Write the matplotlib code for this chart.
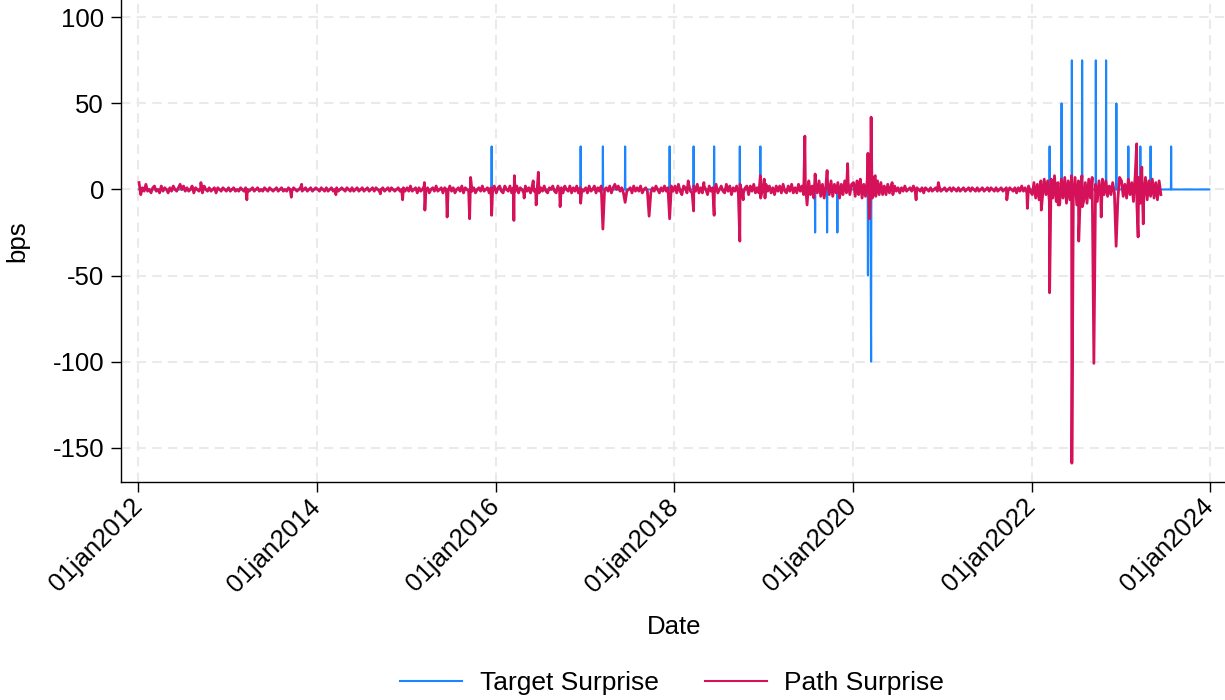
# coding: utf-8
"""
Target surprise and path surprise (bps), 2012-2023
"""

import datetime

import matplotlib
matplotlib.use('Agg')
import matplotlib.pyplot as plt
import matplotlib.dates as mdates
import pandas as pd

# target surprise on announcement days (bps), zero on every other business day
target_dates = ['2015-12-16', '2016-12-14', '2017-03-15', '2017-06-14', '2017-12-13',
                '2018-03-21', '2018-06-13', '2018-09-26', '2018-12-19',
                '2019-07-31', '2019-09-18', '2019-10-30',
                '2020-03-03', '2020-03-16',
                '2022-03-16', '2022-05-04', '2022-06-15', '2022-07-27', '2022-09-21',
                '2022-11-02', '2022-12-14', '2023-02-01', '2023-03-22', '2023-05-03',
                '2023-07-26']
target_bps = [25, 25, 25, 25, 25, 25, 25, 25, 25,
              -25, -25, -25,
              -50, -100,
              25, 50, 75, 75, 75, 75, 50, 25, 25, 25, 25]
target_start = '2012-01-03'
target_end = '2023-12-29'

# path surprise, weekly readings (bps) starting from the first Wednesday of each year
path_weekly = {
    2012: "4 -3 1 -1 3 -1 0 -2 1 2 -1 0 -2 2 -1 1 0 -2 1 -1 2 0 -1 1 -2 0 "
          "2 -1 1 -1 0 2 -2 1 0 -1 1 -2 2 0 -1 1 -1 0 1 -2 1 0 -1 1 0 -1",
    2013: "1 -1 0 1 -1 0 -1 1 0 -1 1 0 -1 0 1 -1 0 1 -1 0 -1 1 0 -1 1 0 "
          "-1 0 1 -1 0 1 -1 0 -1 1 0 -1 1 0 -1 0 1 -1 0 1 -1 0 1 -1 0 1",
    2014: "0 -1 1 0 -1 1 -1 0 1 -1 0 1 -1 0 1 0 -1 1 0 -1 1 -1 0 1 -1 0 "
          "1 -1 0 1 -1 0 1 -1 1 0 -1 0 1 -1 0 1 -1 1 0 -1 0 1 -1 0 1 -1",
    2015: "1 -1 2 -1 0 1 -2 1 -1 0 2 -1 1 -2 0 1 -1 2 -1 0 1 -2 1 0 -1 2 "
          "-1 1 -2 0 1 -1 2 -2 1 0 -1 2 -1 1 -2 0 1 -1 2 -1 0 1 -2 1 -1 2",
    2016: "-2 1 2 -1 -2 2 0 -1 2 -2 1 -1 2 -2 1 0 -2 2 -1 1 -2 2 -1 0 2 -2 "
          "1 -1 2 -1 -2 1 0 2 -1 -2 2 -1 1 -2 2 0 -1 2 -2 1 -1 2 -2 1 0 -1",
    2017: "1 -2 2 -1 0 2 -2 1 -1 2 -2 0 1 -1 2 -2 1 -1 0 2 -1 1 -2 2 -1 0 "
          "1 -2 2 -1 1 -1 2 -2 0 1 -1 2 -2 1 -1 2 0 -2 1 -1 2 -1 1 -2 2 -1",
    2018: "2 -2 3 -1 -3 2 1 -2 3 -1 -2 2 -1 3 -2 1 -2 2 0 -3 2 -1 1 -2 3 -2 "
          "0 2 -1 -2 3 -1 2 -3 1 -1 2 -2 3 -1 -2 1 2 -3 2 -1 3 -2 1 -2 2 -1",
    2019: "-2 3 -1 2 -2 1 -3 2 -1 2 -2 3 -1 -2 2 -1 3 -2 1 -2 3 -1 2 -3 4 -4 "
          "5 -3 2 -5 4 -2 5 -4 3 -5 2 4 -3 5 -4 3 -2 4 -5 3 -3 5 -2 4 -3 3",
    2020: "4 -4 5 -3 6 -5 3 -4 5 -6 6 -5 7 -4 5 -3 4 -3 2 -3 3 -2 2 -3 2 -1 "
          "1 -2 1 -1 2 -1 0 1 -1 2 -1 1 0 -1 1 -2 1 0 -1 1 -1 0 1 -1 2 -1",
    2021: "0 1 -1 0 1 -1 1 0 -1 1 -1 0 1 -1 0 1 -1 1 0 -1 1 -1 0 1 -1 0 "
          "1 -1 1 0 -1 1 -1 0 1 -1 0 1 -1 1 0 -1 1 -2 1 -1 2 -1 1 -2 2 -1",
    2022: "-3 4 -5 3 -6 5 -4 6 -3 5 -7 6 -5 8 -7 4 -9 6 -5 7 -8 5 -6 8 -4 7 "
          "-9 5 -6 8 -7 4 -8 6 -5 7 -6 3 -7 5 -4 6 -3 5 -4 2 -3 4 -2 5 -6 7",
    2023: "5 -4 3 -5 6 -3 4 -7 8 -9 7 -8 6 -5 7 -6 5 -4 6 -5 4 -6 5 -3",
}

# larger path moves on single days (bps)
path_event_dates = ['2012-06-20', '2012-09-13', '2013-03-20', '2013-09-18', '2013-10-30',
                    '2014-03-19', '2014-09-17', '2014-12-17', '2015-03-16', '2015-03-18',
                    '2015-06-17', '2015-09-17', '2015-09-21', '2015-12-16', '2016-03-16',
                    '2016-03-18', '2016-04-27', '2016-06-03', '2016-06-15', '2016-06-24',
                    '2016-09-21', '2016-12-14', '2017-03-15', '2017-05-03', '2017-06-14',
                    '2017-09-20', '2017-12-13', '2018-02-27', '2018-03-21', '2018-05-02',
                    '2018-06-13', '2018-09-26', '2018-10-10', '2018-12-19', '2018-12-20',
                    '2019-01-04', '2019-01-07', '2019-06-19', '2019-06-28', '2019-07-31',
                    '2019-09-18', '2019-10-04', '2019-12-11', '2020-01-29', '2020-03-03',
                    '2020-03-10', '2020-03-16', '2020-03-20', '2020-04-02', '2020-06-10',
                    '2020-09-16', '2020-12-16', '2021-09-22', '2021-12-15', '2022-02-10',
                    '2022-03-16', '2022-04-20', '2022-06-15', '2022-07-13', '2022-07-28',
                    '2022-09-13', '2022-10-13', '2022-12-13', '2023-03-07', '2023-03-13',
                    '2023-03-28', '2023-04-03']
path_event_bps = [3, 4, -6, -4.5, 3,
                  -3, -2.5, -6, 4, -12,
                  -16, -17, 7, -15, -18,
                  8, -5, 5, -9, 10,
                  -10, -8, -23, 3, -7.5,
                  -15.5, -17, 5, -12.5, 4,
                  -15, -30, -6, 8, -5,
                  6, -5, 31, -9, 9,
                  11, 5, 15, 4, 21,
                  -17, 42, -5, 8, 4,
                  -6, 4, -6, -11, -12,
                  -60, -9, -159, -30, -10,
                  -101, -16, -33, 26.5, -27.6,
                  13, -20]

y_ticks = [100, 50, 0, -50, -100, -150]
x_tick_years = [2012, 2014, 2016, 2018, 2020, 2022, 2024]

COLOR_TARGET = '#1A85FF'
COLOR_PATH = '#D41159'


def build_target_series():
    """
    営業日ベースの target surprise 系列 (発表日以外は 0)
    """
    days = pd.bdate_range(target_start, target_end)
    s = pd.Series(0.0, index=days)
    s[pd.to_datetime(target_dates)] = target_bps
    return s


def build_path_series():
    """
    週次の値と個別日の値をまとめて path surprise 系列を作る
    """
    parts = []
    for year, text in path_weekly.items():
        vals = [float(v) for v in text.split()]
        idx = pd.date_range('{}-01-04'.format(year), periods=len(vals), freq='7D')
        parts.append(pd.Series(vals, index=idx))
    events = pd.Series(path_event_bps, index=pd.to_datetime(path_event_dates), dtype=float)
    s = pd.concat(parts + [events]).sort_index(kind='mergesort')
    s = s[~s.index.duplicated(keep='last')]
    return s


def create_surprise_graph(target, path):
    plt.rcParams['font.family'] = ['Liberation Sans', 'DejaVu Sans']
    plt.rcParams['axes.unicode_minus'] = False

    fig = plt.figure(figsize=(12.25, 7), dpi=100)
    ax = fig.add_axes([121 / 1225, 1 - 481.7 / 700, 1104 / 1225, 481.7 / 700])

    line_t, = ax.plot(target.index, target.values, color=COLOR_TARGET, lw=1.5,
                      label='Target Surprise')
    line_p, = ax.plot(path.index, path.values, color=COLOR_PATH, lw=2.0,
                      label='Path Surprise')

    # axes range, a little past the first and last tick
    x0 = mdates.date2num(datetime.date(2012, 1, 1)) - 70.8
    x1 = mdates.date2num(datetime.date(2024, 1, 1)) + 61.3
    ax.set_xlim(x0, x1)
    ax.set_ylim(-169.75, 110.05)

    ax.set_yticks(y_ticks)
    ax.set_yticklabels([str(v) for v in y_ticks])
    xt = [datetime.date(y, 1, 1) for y in x_tick_years]
    ax.set_xticks([mdates.date2num(d) for d in xt])
    ax.set_xticklabels([d.strftime('%d%b%Y').lower() for d in xt],
                       rotation=45, ha='right', va='center', rotation_mode='anchor')

    ax.tick_params(axis='both', length=7.2, width=1, labelsize=18.5, color='black')
    ax.tick_params(axis='y', pad=5)
    ax.tick_params(axis='x', pad=8)

    for side in ['top', 'right']:
        ax.spines[side].set_visible(False)
    for side in ['left', 'bottom']:
        ax.spines[side].set_linewidth(1.0)

    # dashed light grid
    ax.grid(True, color='#EAEAEA', lw=1.5, linestyle=(0, (4.5, 3)))
    ax.set_axisbelow(True)

    fig.text(17 / 1225, 1 - 241 / 700, 'bps', rotation=90, ha='center', va='center',
             fontsize=18.5)
    fig.text(674 / 1225, 1 - 626.7 / 700, 'Date', ha='center', va='center',
             fontsize=18.5)

    legend_line_t = plt.Line2D([], [], color=COLOR_TARGET, lw=1.5)
    legend_line_p = plt.Line2D([], [], color=COLOR_PATH, lw=1.5)
    fig.legend([legend_line_t, legend_line_p], ['Target Surprise', 'Path Surprise'],
               loc='center', bbox_to_anchor=(672 / 1225, 1 - 683 / 700),
               ncol=2, frameon=False, fontsize=19, handlelength=2.35,
               handletextpad=0.65, columnspacing=1.75)

    fig.savefig('out.png', dpi=100)


if __name__ == '__main__':
    create_surprise_graph(build_target_series(), build_path_series())
